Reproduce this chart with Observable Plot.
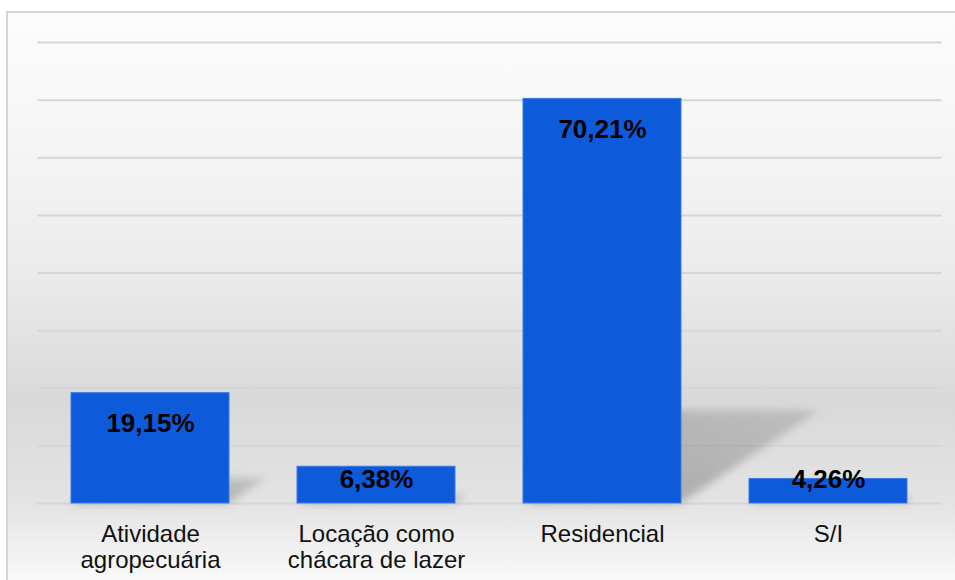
<!DOCTYPE html>
<html>
<head>
<meta charset="utf-8">
<script src="https://cdn.jsdelivr.net/npm/d3@7"></script>
<script src="https://cdn.jsdelivr.net/npm/@observablehq/plot@0.6"></script>
<style>
  html, body { margin: 0; padding: 0; background: #ffffff; }
  body { width: 955px; height: 580px; position: relative; overflow: hidden; font-family: "Liberation Sans", Arial, sans-serif; }
  #frame {
    position: absolute; left: 6px; top: 11px; width: 960px; height: 580px;
    border-top: 2px solid #d4d4d4; border-left: 2px solid #d4d4d4;
    background: linear-gradient(to bottom, #fcfcfc 0%, #f8f8f8 15%, #ebebeb 45%, #d9d9d9 67%, #e4e4e4 85%, #fdfdfd 100%);
  }
  #chart { position: absolute; left: 0; top: 0; }
</style>
</head>
<body>
<div id="frame"></div>
<div id="chart"></div>
<script>
const categories = ["Atividade\nagropecuária", "Locação como\nchácara de lazer", "Residencial", "S/I"];
const values = [19.15, 6.38, 70.21, 4.26];
const valueLabels = ["19,15%", "6,38%", "70,21%", "4,26%"];
const gridTicks = [0, 10, 20, 30, 40, 50, 60, 70, 80];

const data = categories.map((c, i) => ({ category: c, value: values[i], label: valueLabels[i] }));

// Cast shadow behind each bar: the bar silhouette squashed and sheared to the right
function shadowMark(index, scales, values, dimensions) {
  const x = scales.x, y = scales.y;
  const k = 0.23, m = 0.343;
  const g = d3.create("svg:g");
  const defs = g.append("defs");
  defs.append("filter")
    .attr("id", "shadowBlur").attr("x", "-30%").attr("y", "-30%").attr("width", "160%").attr("height", "160%")
    .append("feGaussianBlur").attr("stdDeviation", 4);
  const grad = defs.append("linearGradient").attr("id", "shadowFade")
    .attr("x1", 0).attr("y1", 1).attr("x2", 1).attr("y2", 0);
  grad.append("stop").attr("offset", "0%").attr("stop-color", "#8a8a8a").attr("stop-opacity", 0.7);
  grad.append("stop").attr("offset", "100%").attr("stop-color", "#8a8a8a").attr("stop-opacity", 0.35);
  const base = y(0);
  const bw = x.bandwidth();
  g.append("g").attr("filter", "url(#shadowBlur)")
    .selectAll("polygon").data(data).join("polygon")
    .attr("points", d => {
      const x0 = x(d.category), h = base - y(d.value);
      return [[x0, base], [x0 + bw, base], [x0 + bw + m * h, base - k * h], [x0 + m * h, base - k * h]].map(p => p.join(",")).join(" ");
    })
    .attr("fill", "url(#shadowFade)");
  return g.node();
}

const chart = Plot.plot({
  width: 955,
  height: 580,
  marginLeft: 37.5,
  marginRight: 13.5,
  marginTop: 42,
  marginBottom: 77,
  style: { background: "transparent", fontFamily: "'Liberation Sans', Arial, sans-serif", color: "#111" },
  x: { domain: categories, paddingInner: 0.3, paddingOuter: 0.15, label: null },
  y: { domain: [0, 80], label: null, axis: null },
  marks: [
    Plot.ruleY(gridTicks, { stroke: "#d6d6d6", strokeWidth: 2 }),
    shadowMark,
    Plot.barY(data, { x: "category", y: "value", fill: "#0d5bdb", stroke: "#3d7be3", strokeWidth: 1 }),
    Plot.text(data, { filter: d => d.value > 10, x: "category", y: "value", text: "label", dy: 31, fontSize: 26, fontWeight: "bold", fill: "#000" }),
    Plot.text(data, { filter: d => d.value <= 10, x: "category", y: () => 0, text: "label", dy: -24, fontSize: 26, fontWeight: "bold", fill: "#000" }),
    Plot.axisX({ tickSize: 0, tickPadding: 20, fontSize: 24, lineHeight: 1.08, lineAnchor: "top", fill: "#111" })
  ]
});

document.getElementById("chart").appendChild(chart);
</script>
</body>
</html>
